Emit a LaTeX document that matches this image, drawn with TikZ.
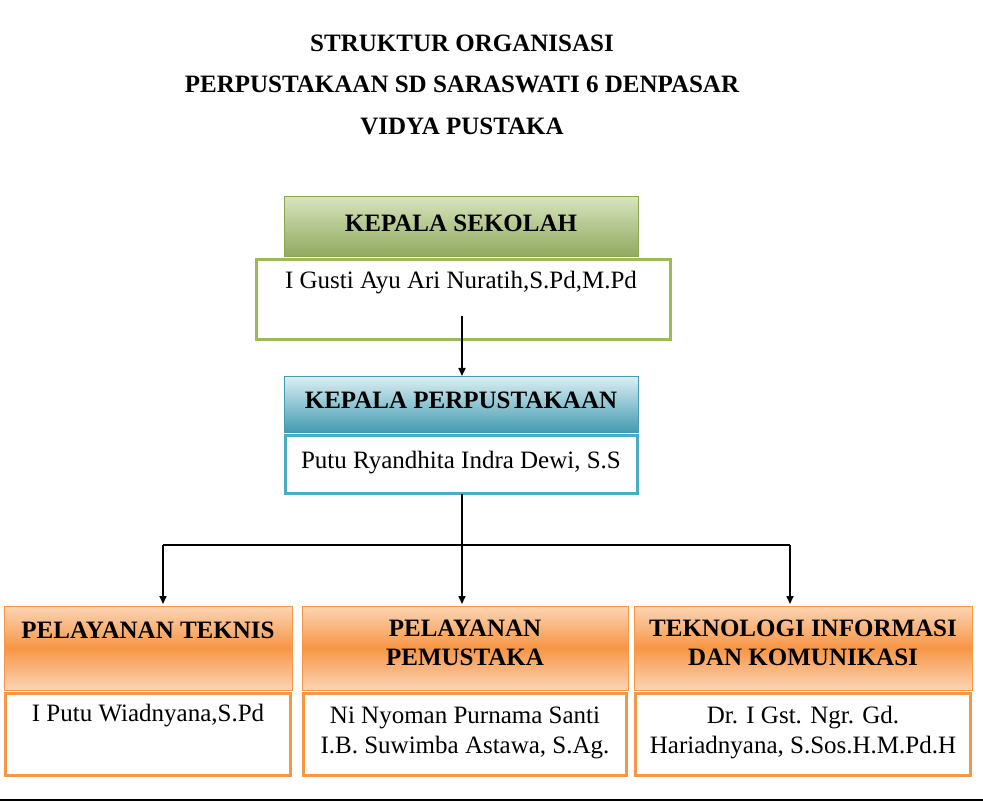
\documentclass[tikz,border=0pt]{standalone}
\usepackage{fontspec}
\setmainfont{Liberation Serif}
\usetikzlibrary{arrows.meta}
\definecolor{gA}{HTML}{9BBB59}\definecolor{gL}{HTML}{D7E4BD}
\definecolor{bA}{HTML}{4BACC6}\definecolor{bL}{HTML}{DAEEF3}
\definecolor{oA}{HTML}{F79646}\definecolor{oL}{HTML}{FBD5B5}
\begin{document}
\begin{tikzpicture}[x=1pt,y=-1pt,
  ttl/.style={font=\fontsize{25}{28}\selectfont\bfseries},
  hdr/.style={font=\fontsize{25}{29}\selectfont\bfseries,align=center},
  txt/.style={font=\fontsize{25}{30}\selectfont,align=center},
  conn/.style={line width=1.6pt,-{Triangle[length=8pt,width=7pt]}}]
\useasboundingbox (0,0) rectangle (983,802);
\node[ttl] (t1) at (462,43) {STRUKTUR ORGANISASI};
\node[ttl] (t2) at (462,84) {PERPUSTAKAAN SD SARASWATI 6 DENPASAR};
\node[ttl] (t3) at (462,126) {VIDYA PUSTAKA};
% green
\shade[top color=gL,bottom color=gA!85!black!90,draw=gA!90!black,line width=1pt] (284,197) rectangle (638,257);
\draw[gA,line width=3pt,fill=white] (256,260) rectangle (670,340);
\node[hdr] (h1) at (461,223) {KEPALA SEKOLAH};
\node[txt] (n1) at (461,283) {I Gusti Ayu Ari Nuratih,S.Pd,M.Pd};
% blue
\shade[top color=bL,bottom color=bA!90!black,draw=bA!90!black,line width=1pt] (284,377) rectangle (638,432);
\draw[bA,line width=3pt,fill=white] (285,435) rectangle (637,493);
\node[hdr] (h2) at (461,400) {KEPALA PERPUSTAKAAN};
\node[txt] (n2) at (461,463) {Putu Ryandhita Indra Dewi, S.S};
% orange
\foreach \a/\b/\n in {4/292/a,302/628/b,634/972/c}{
  \shade[top color=oL,bottom color=oL,middle color=oA,draw=oA,line width=1pt] (\a,606) rectangle (\b,690);
  \draw[oA,line width=3pt,fill=white] (\a+1.5,693) rectangle (\b-1.5,775);
}
\node[hdr] (h3) at (148,630) {PELAYANAN TEKNIS};
\node[hdr] (h4) at (465,643) {PELAYANAN\\PEMUSTAKA};
\node[hdr] (h5) at (803,643) {TEKNOLOGI INFORMASI\\DAN KOMUNIKASI};
\node[txt] (n3) at (148,716) {I Putu Wiadnyana,S.Pd};
\node[txt] (n4) at (465,733) {Ni Nyoman Purnama Santi\\I.B. Suwimba Astawa, S.Ag.};
\node[txt] (n5) at (803,733) {Dr. I Gst. Ngr. Gd.\\Hariadnyana, S.Sos.H.M.Pd.H};
% connectors
\coordinate (c0) at (462,316);
\coordinate (c1) at (462,376);
\coordinate (j) at (462,545);
\coordinate (jl) at (163,545);
\coordinate (jr) at (790,545);
\coordinate (e1) at (163,604);
\coordinate (e2) at (462,604);
\coordinate (e3) at (790,604);
\coordinate (s2) at (462,494);
\draw[conn] (c0) -- (c1);
\draw[line width=1.6pt] (s2) -- (j);
\draw[line width=1.6pt] (jl) -- (jr);
\draw[conn] (jl) -- (e1);
\draw[conn] (j) -- (e2);
\draw[conn] (jr) -- (e3);
\coordinate (bl) at (0,800); \coordinate (br) at (983,800);
\draw[line width=1.5pt] (bl) -- (br);
\end{tikzpicture}
\end{document}
